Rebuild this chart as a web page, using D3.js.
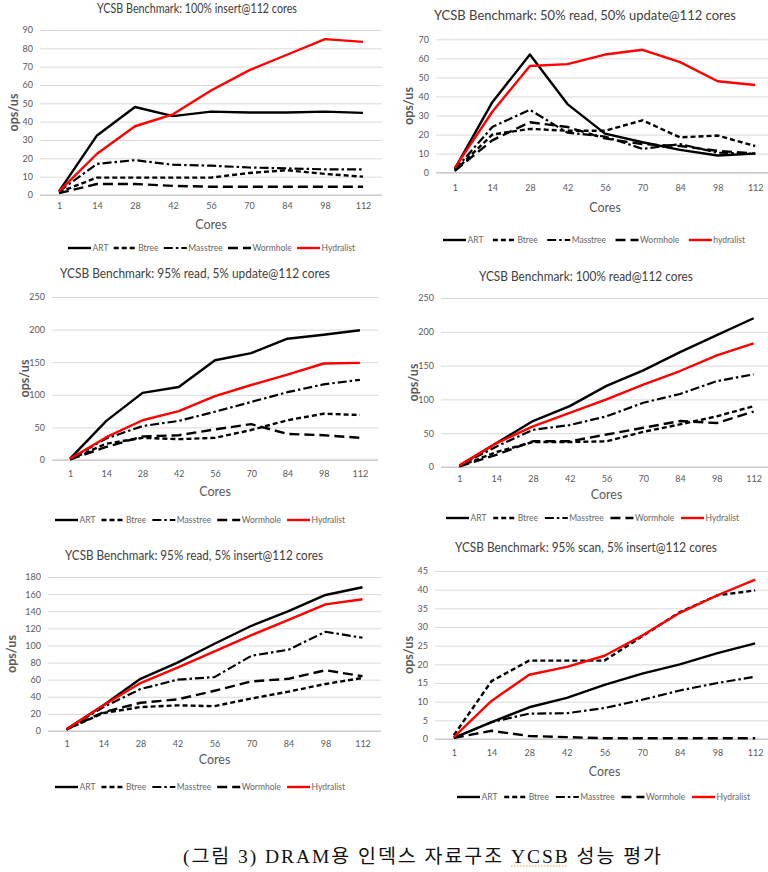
<!DOCTYPE html>
<html><head><meta charset="utf-8">
<script src="https://cdn.jsdelivr.net/npm/d3@7"></script>
<style>body{margin:0;background:#fff}svg{display:block}</style>
</head><body>
<svg id="c" width="768" height="872"></svg>
<script>
// ---------------- DATA ----------------
const categories = ["1","14","28","42","56","70","84","98","112"];
const seriesNames = ["ART","Btree","Masstree","Wormhole","Hydralist"];
const seriesNamesP2 = ["ART","Btree","Masstree","Wormhole","hydralist"];
const titles = [
  "YCSB Benchmark: 100% insert@112 cores",
  "YCSB Benchmark: 50% read, 50% update@112 cores",
  "YCSB Benchmark: 95% read, 5% update@112 cores",
  "YCSB Benchmark: 100% read@112 cores",
  "YCSB Benchmark: 95% read, 5% insert@112 cores",
  "YCSB Benchmark: 95% scan, 5% insert@112 cores"
];
const yTicks1 = [0,10,20,30,40,50,60,70,80,90];
const yTicks2 = [0,10,20,30,40,50,60,70];
const yTicks3 = [0,50,100,150,200,250];
const yTicks4 = [0,50,100,150,200,250];
const yTicks5 = [0,20,40,60,80,100,120,140,160,180];
const yTicks6 = [0,5,10,15,20,25,30,35,40,45];
const xAxisTitle = "Cores";
const yAxisTitle = "ops/us";
const caption = "(그림 3) DRAM용 인덱스 자료구조 YCSB 성능 평가";

// series order: ART, Btree, Masstree, Wormhole, Hydralist
const insert100 = [
  [2, 32.5, 48, 43, 45.5, 45, 45, 45.5, 44.8],
  [1.5, 9.5, 9.5, 9.5, 9.5, 12, 13.5, 11.5, 10],
  [2, 17, 19, 16.5, 16, 15, 14.5, 14, 14],
  [1, 6, 6, 5, 4.5, 4.5, 4.5, 4.5, 4.5],
  [2, 22.5, 37.5, 44, 57, 68, 76.5, 85, 83.5]
];
const read50update50 = [
  [2, 37, 62, 36, 20.5, 16, 12, 9, 10],
  [1, 20, 23, 22, 22, 27.5, 18.5, 19.5, 14],
  [1.5, 24, 33, 21, 19, 12.5, 15, 10.5, 10],
  [1, 17, 26.5, 24, 18, 15, 14, 11.5, 10],
  [2.5, 32, 56, 57, 62, 64.5, 58, 48, 46]
];
const read95update5 = [
  [2, 60, 103, 112, 153, 164, 186, 192, 199],
  [1, 25, 34, 32, 34, 46, 61, 71, 69],
  [2, 33, 52, 60, 74, 89, 104, 116, 123],
  [1, 20, 36, 38, 47, 55, 40, 38, 34],
  [2, 35, 61, 75, 98, 115, 131, 148, 149]
];
const read100 = [
  [2, 35, 68, 90, 120, 143, 170, 195, 220],
  [1, 22, 37, 37, 38, 52, 63, 75, 90],
  [2, 30, 55, 62, 75, 95, 108, 127, 137],
  [1, 18, 38, 38, 48, 58, 68, 65, 82],
  [2, 35, 60, 80, 100, 122, 142, 165, 183]
];
const read95insert5 = [
  [2, 30, 61, 80, 102, 123, 140, 159, 168],
  [2, 21, 28, 30, 29, 38, 46, 55, 62],
  [2, 28, 49, 60, 63, 88, 95, 116, 109],
  [2, 22, 33, 37, 47, 58, 61, 71, 64],
  [2, 30, 56, 74, 93, 112, 130, 148, 154]
];
const scan95insert5 = [
  [0.3, 4.5, 8.5, 11, 14.5, 17.5, 20, 23, 25.6],
  [1, 15.5, 21, 21, 21, 27.5, 34, 38.5, 39.8],
  [0.3, 4.5, 6.8, 6.9, 8.3, 10.5, 13, 15, 16.7],
  [0.3, 2.2, 0.8, 0.5, 0.2, 0.2, 0.2, 0.2, 0.2],
  [0.5, 10.2, 17.2, 19.3, 22.3, 27.7, 33.8, 38.5, 42.7]
];

const panelValues = [insert100, read50update50, read95update5, read100, read95insert5, scan95insert5];
const panelTicks = [yTicks1, yTicks2, yTicks3, yTicks4, yTicks5, yTicks6];
const panelLegend = [seriesNames, seriesNamesP2, seriesNames, seriesNames, seriesNames, seriesNames];

// ---------------- LAYOUT / STYLE ----------------
const layout = [
 {left:40,right:382,top:30,bottom:195,titleX:197,titleY:9,titleW:200,titleFs:12.5,xLabY:206,coresY:225,legY:248,legX:68,legW:287,ylabX:14},
 {left:436,right:774,top:39.3,bottom:172.7,titleX:585,titleY:15,titleW:302,titleFs:13,xLabY:188,coresY:208,legY:240,legX:443,legW:302,ylabX:409},
 {left:52,right:378,top:297,bottom:460,titleX:195,titleY:273,titleW:270,titleFs:13,xLabY:474,coresY:492,legY:520,legX:55,legW:290,ylabX:25},
 {left:441,right:772,top:298,bottom:467,titleX:586,titleY:277,titleW:214,titleFs:12.5,xLabY:479,coresY:495,legY:518,legX:446,legW:293,ylabX:414},
 {left:48,right:381,top:577,bottom:731,titleX:194,titleY:555,titleW:258,titleFs:13,xLabY:744,coresY:760,legY:787,legX:55,legW:290,ylabX:12},
 {left:435,right:774,top:571,bottom:739,titleX:586,titleY:547,titleW:262,titleFs:13,xLabY:753,coresY:772,legY:797,legX:457,legW:293,ylabX:409}
];
const styles = [
  {color:"#000", dash:null, w:2.4},
  {color:"#000", dash:"5,3", w:2.4},
  {color:"#000", dash:"9,3,2.5,3", w:2.2},
  {color:"#000", dash:"10,5", w:2.4},
  {color:"#ff0000", dash:null, w:2.4}
];
const FONT = "Lato, 'Open Sans', sans-serif";
const GRAY = "#595959";

const svg = d3.select("#c");

panelValues.forEach((vals, pi) => {
  const L = layout[pi];
  const ticks = panelTicks[pi];
  const g = svg.append("g");
  const x = d3.scalePoint().domain(categories).range([L.left, L.right]).padding(0.5);
  const y = d3.scaleLinear().domain([0, d3.max(ticks)]).range([L.bottom, L.top]);

  // gridlines
  const yAxis = d3.axisLeft(y).tickValues(ticks).tickSize(-(L.right - L.left)).tickPadding(7);
  const ya = g.append("g").attr("transform", `translate(${L.left},0)`).call(yAxis);
  ya.select(".domain").remove();
  ya.selectAll("line").attr("stroke", "#d9d9d9").attr("stroke-width", 1);
  ya.selectAll("text").attr("fill", GRAY).style("font-family", FONT).style("font-size", "9px");

  const xAxis = d3.axisBottom(x).tickSize(0).tickPadding(0);
  const xa = g.append("g").attr("transform", `translate(0,${L.xLabY})`).call(xAxis);
  xa.select(".domain").remove();
  xa.selectAll("text").attr("dy", "0.35em").attr("y", 0).attr("fill", GRAY)
    .style("font-family", FONT).style("font-size", "9px");

  // baseline axis
  g.append("line").attr("x1", L.left).attr("x2", L.right).attr("y1", y(0)).attr("y2", y(0))
    .attr("stroke", "#bfbfbf").attr("stroke-width", 1);

  // title (condensed to the width seen in the reference)
  g.append("text").attr("x", L.titleX).attr("y", L.titleY).attr("dy", "0.35em")
    .attr("text-anchor", "middle").attr("fill", "#404040")
    .style("font-family", FONT).style("font-size", L.titleFs + "px")
    .attr("textLength", L.titleW).attr("lengthAdjust", "spacingAndGlyphs").text(titles[pi]);

  // axis titles
  g.append("text").attr("x", (L.left + L.right) / 2).attr("y", L.coresY).attr("dy", "0.35em")
    .attr("text-anchor", "middle").attr("fill", GRAY)
    .style("font-family", FONT).style("font-size", "12.5px").text(xAxisTitle);
  g.append("text").attr("transform", `translate(${L.ylabX},${(L.top + L.bottom) / 2}) rotate(-90)`)
    .attr("dy", "0.35em").attr("text-anchor", "middle").attr("fill", GRAY)
    .style("font-family", FONT).style("font-size", "12.5px").style("font-weight", "bold").text(yAxisTitle);

  // lines
  const line = d3.line().x((d, i) => x(categories[i])).y(d => y(d));
  vals.forEach((s, si) => {
    const st = styles[si];
    g.append("path").datum(s).attr("d", line).attr("fill", "none")
      .attr("stroke", st.color).attr("stroke-width", st.w)
      .attr("stroke-dasharray", st.dash).attr("stroke-linejoin", "round");
  });

  // legend: fixed line length, gaps spread to match width
  const lg = g.append("g").attr("transform", `translate(${L.legX},${L.legY})`);
  const items = panelLegend[pi].map((name, si) => {
    const st = styles[si];
    const ln = lg.append("line").attr("y1", 0).attr("y2", 0)
      .attr("stroke", st.color).attr("stroke-width", st.w).attr("stroke-dasharray", st.dash);
    const t = lg.append("text").attr("y", 0).attr("dy", "0.35em")
      .attr("fill", "#666").style("font-family", FONT).style("font-size", "8.5px").text(name);
    return {ln, t, w: t.node().getComputedTextLength()};
  });
  const lineLen = 23, lgap = 1.5;
  const used = d3.sum(items, d => lineLen + lgap + d.w);
  const gap = (L.legW - used) / (items.length - 1);
  let cx = 0;
  items.forEach(it => {
    it.ln.attr("x1", cx).attr("x2", cx + lineLen);
    it.t.attr("x", cx + lineLen + lgap);
    cx += lineLen + lgap + it.w + gap;
  });
});

// caption
const cap = svg.append("text").attr("x", 183).attr("y", 856).attr("dy", "0.35em")
  .attr("fill", "#111").style("font-family", "'Liberation Serif', 'DejaVu Serif', 'Noto Sans CJK KR', serif")
  .style("font-size", "17px").text(caption);
const natural = cap.node().getComputedTextLength();
const fs = Math.max(16, Math.min(19.5, 17 * 478 / natural));
cap.style("font-size", fs + "px").attr("textLength", 478).attr("lengthAdjust", "spacing");
const idx = caption.indexOf("YCSB");
const n = cap.node();
const ux1 = n.getStartPositionOfChar(idx).x, ux2 = n.getEndPositionOfChar(idx + 3).x;
svg.append("line").attr("x1", ux1).attr("x2", ux2).attr("y1", 866).attr("y2", 866)
  .attr("stroke", "#e8a040").attr("stroke-width", 1).attr("stroke-dasharray", "1.5,1.5");
</script>
</body></html>
